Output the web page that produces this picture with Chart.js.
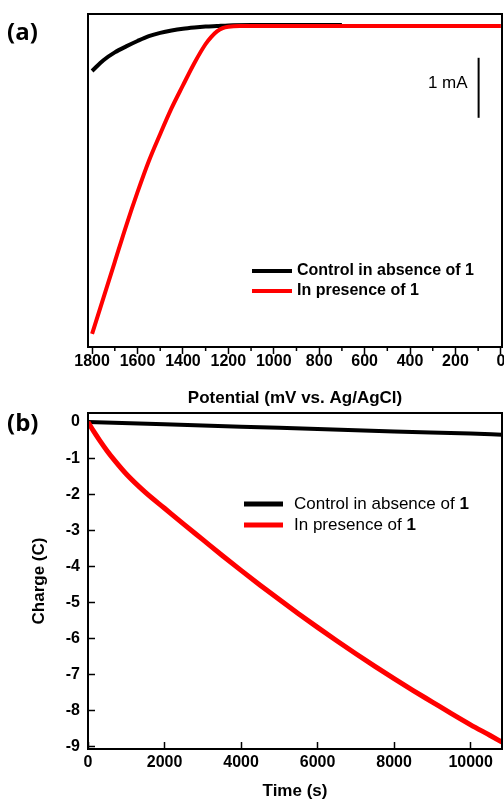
<!DOCTYPE html>
<html>
<head>
<meta charset="utf-8">
<script src="https://cdn.jsdelivr.net/npm/chart.js@4.4.1/dist/chart.umd.min.js"></script>
<style>
html, body { margin: 0; padding: 0; background: #fff; }
body { width: 504px; height: 804px; position: relative; overflow: hidden; }
canvas { position: absolute; left: 0; }
#chart-a { top: 0; }
#chart-b { top: 404px; }
</style>
</head>
<body>
<canvas id="chart-a" width="504" height="410"></canvas>
<canvas id="chart-b" width="504" height="400"></canvas>
<script>
// (a) linear sweep, current in mA relative to baseline
var potBlack = [1800, 1750, 1700, 1650, 1600, 1550, 1500, 1450, 1400, 1350, 1300, 1250, 1200, 1100, 1000, 900, 800, 700];
var curBlack = [-0.75, -0.57, -0.44, -0.34, -0.25, -0.17, -0.115, -0.075, -0.045, -0.025, -0.01, 0, 0.01, 0.015, 0.015, 0.015, 0.015, 0.015];
var potRed = [1800, 1750, 1700, 1650, 1600, 1550, 1500, 1450, 1400, 1350, 1300, 1275, 1250, 1225, 1200, 1150, 1100, 1000, 800, 600, 400, 200, 0];
var curRed = [-5.13, -4.53, -3.93, -3.33, -2.77, -2.25, -1.8, -1.37, -0.99, -0.62, -0.3, -0.18, -0.09, -0.035, -0.012, 0, 0, 0, 0, 0, 0, 0, 0];
var potTicks = [1800, 1600, 1400, 1200, 1000, 800, 600, 400, 200, 0];
var potMinor = [1700, 1500, 1300, 1100, 900, 700, 500, 300, 100];

// (b) charge passed vs time
var timeBlack = [0, 2000, 4000, 6000, 8000, 10000, 10820];
var chargeBlack = [0, -0.06, -0.13, -0.19, -0.26, -0.32, -0.35];
var timeRed = [0, 150, 300, 500, 700, 1000, 1500, 2000, 2500, 3000, 3500, 4000, 4500, 5000, 5500, 6000, 6500, 7000, 7500, 8000, 8500, 9000, 9500, 10000, 10500, 10820];
var chargeRed = [0, -0.26, -0.5, -0.8, -1.07, -1.44, -1.95, -2.39, -2.83, -3.26, -3.69, -4.11, -4.52, -4.92, -5.31, -5.69, -6.06, -6.42, -6.77, -7.11, -7.44, -7.76, -8.08, -8.39, -8.68, -8.87];
var timeTicks = [0, 2000, 4000, 6000, 8000, 10000];
var chargeTicks = [0, -1, -2, -3, -4, -5, -6, -7, -8, -9];

var seriesNames = ['Control in absence of ', 'In presence of '];
var compound = '1';

var SANS = "'Liberation Sans', Arial, Helvetica, sans-serif";
Chart.defaults.font.family = SANS;
Chart.defaults.color = '#000';

var tickFont = { size: 16, weight: 'bold', lineHeight: 1 };
var titleFont = { size: 17, weight: 'bold' };

function pts(xs, ys) {
  return xs.map(function (x, i) { return { x: x, y: ys[i] }; });
}
function fixedTicks(list) {
  return function (scale) {
    scale.ticks = list.map(function (v) { return { value: v }; });
  };
}
// fix the axis box size and drop the label overhang padding chart.js adds
function fitTo(prop, size) {
  return function (s) {
    s[prop] = size;
    s.paddingLeft = s.paddingRight = s.paddingTop = s.paddingBottom = 0;
  };
}
function plain(v) { return String(v); }

var frame = {
  id: 'frame',
  afterDraw: function (chart) {
    var a = chart.chartArea, ctx = chart.ctx;
    ctx.save();
    ctx.strokeStyle = '#000';
    ctx.lineWidth = 2;
    ctx.strokeRect(a.left, a.top, a.right - a.left, a.bottom - a.top);
    ctx.restore();
  }
};

function legendRow(ctx, x0, x1, tx, y, color, lw, text, font, tailFont) {
  ctx.strokeStyle = color;
  ctx.lineWidth = lw;
  ctx.beginPath();
  ctx.moveTo(x0, y);
  ctx.lineTo(x1, y);
  ctx.stroke();
  ctx.fillStyle = '#000';
  ctx.textAlign = 'left';
  ctx.textBaseline = 'middle';
  ctx.font = font;
  ctx.fillText(text, tx, y);
  var w = ctx.measureText(text).width;
  ctx.font = tailFont;
  ctx.fillText(compound, tx + w, y);
}

var extrasA = {
  id: 'extrasA',
  afterDraw: function (chart) {
    var ctx = chart.ctx, x = chart.scales.x, y = chart.scales.y, a = chart.chartArea;
    ctx.save();
    ctx.strokeStyle = '#000';
    ctx.lineWidth = 1.5;
    potMinor.forEach(function (v) {
      var px = x.getPixelForValue(v);
      ctx.beginPath();
      ctx.moveTo(px, a.bottom);
      ctx.lineTo(px, a.bottom + 4);
      ctx.stroke();
    });
    // 1 mA scale bar
    var bx = x.getPixelForValue(98);
    ctx.lineWidth = 2;
    ctx.beginPath();
    ctx.moveTo(bx, y.getPixelForValue(-0.53));
    ctx.lineTo(bx, y.getPixelForValue(-1.53));
    ctx.stroke();
    ctx.fillStyle = '#000';
    ctx.font = '17px ' + SANS;
    ctx.textAlign = 'right';
    ctx.textBaseline = 'middle';
    ctx.fillText('1 mA', bx - 11, y.getPixelForValue(-0.95));

    ctx.font = "bold 24px 'Open Sans', sans-serif";
    ctx.textAlign = 'left';
    ctx.fillText('(a)', 7, 33);

    var bold = 'bold 16px ' + SANS;
    legendRow(ctx, 252, 292, 297, 271, '#000', 4, seriesNames[0], bold, bold);
    legendRow(ctx, 252, 292, 297, 291, '#ff0000', 4, seriesNames[1], bold, bold);
    ctx.restore();
  }
};

var extrasB = {
  id: 'extrasB',
  afterDraw: function (chart) {
    var ctx = chart.ctx;
    ctx.save();
    ctx.fillStyle = '#000';
    ctx.font = "bold 24px 'Open Sans', sans-serif";
    ctx.textAlign = 'left';
    ctx.textBaseline = 'middle';
    ctx.fillText('(b)', 7, 20);
    var reg = '17px ' + SANS, bold = 'bold 17px ' + SANS;
    legendRow(ctx, 244, 283, 294, 100, '#000', 5, seriesNames[0], reg, bold);
    legendRow(ctx, 244, 283, 294, 121, '#ff0000', 5, seriesNames[1], reg, bold);
    ctx.restore();
  }
};

new Chart(document.getElementById('chart-a'), {
  type: 'line',
  data: {
    datasets: [
      { label: seriesNames[1] + compound, data: pts(potRed, curRed), borderColor: '#ff0000', borderWidth: 4, order: 0 },
      { label: seriesNames[0] + compound, data: pts(potBlack, curBlack), borderColor: '#000000', borderWidth: 4, order: 1 }
    ]
  },
  options: {
    responsive: false,
    animation: false,
    devicePixelRatio: 1,
    layout: { padding: { left: 88, top: 14, right: 2, bottom: 0 } },
    elements: { point: { radius: 0 }, line: { cubicInterpolationMode: 'monotone' } },
    plugins: { legend: { display: false }, tooltip: { enabled: false } },
    scales: {
      x: {
        type: 'linear', reverse: true, min: -5, max: 1818,
        afterBuildTicks: fixedTicks(potTicks),
        afterFit: fitTo('height', 63),
        border: { display: false },
        grid: { drawOnChartArea: false, tickLength: 7, tickWidth: 1.5, tickColor: '#000' },
        ticks: { font: tickFont, padding: 0, maxRotation: 0, autoSkip: false, callback: plain },
        title: { display: true, text: 'Potential (mV vs. Ag/AgCl)', font: titleFont, padding: { top: 0, bottom: 1 } }
      },
      y: { type: 'linear', display: false, min: -5.35, max: 0.2 }
    }
  },
  plugins: [frame, extrasA]
});

new Chart(document.getElementById('chart-b'), {
  type: 'line',
  data: {
    datasets: [
      { label: seriesNames[1] + compound, data: pts(timeRed, chargeRed), borderColor: '#ff0000', borderWidth: 5, order: 0 },
      { label: seriesNames[0] + compound, data: pts(timeBlack, chargeBlack), borderColor: '#000000', borderWidth: 4, order: 1 }
    ]
  },
  options: {
    responsive: false,
    animation: false,
    devicePixelRatio: 1,
    layout: { padding: { left: 0, top: 9, right: 2, bottom: 0 } },
    elements: { point: { radius: 0 }, line: { cubicInterpolationMode: 'monotone' } },
    plugins: { legend: { display: false }, tooltip: { enabled: false } },
    scales: {
      x: {
        type: 'linear', min: 0, max: 10820,
        afterBuildTicks: fixedTicks(timeTicks),
        afterFit: fitTo('height', 55),
        border: { display: false },
        grid: { drawOnChartArea: false, tickLength: -7, tickWidth: 1.5, tickColor: '#000' },
        ticks: { font: tickFont, padding: 13, maxRotation: 0, autoSkip: false, callback: plain },
        title: { display: true, text: 'Time (s)', font: titleFont, padding: { top: 0, bottom: 2 } }
      },
      y: {
        type: 'linear', min: -9.06, max: 0.25,
        afterBuildTicks: fixedTicks(chargeTicks),
        afterFit: fitTo('width', 88),
        border: { display: false },
        grid: { drawOnChartArea: false, tickLength: -7, tickWidth: 1.5, tickColor: '#000' },
        ticks: { font: tickFont, padding: 15, autoSkip: false, callback: plain },
        title: { display: true, text: 'Charge (C)', font: titleFont, padding: { top: 29, bottom: 0 } }
      }
    }
  },
  plugins: [frame, extrasB]
});
</script>
</body>
</html>
